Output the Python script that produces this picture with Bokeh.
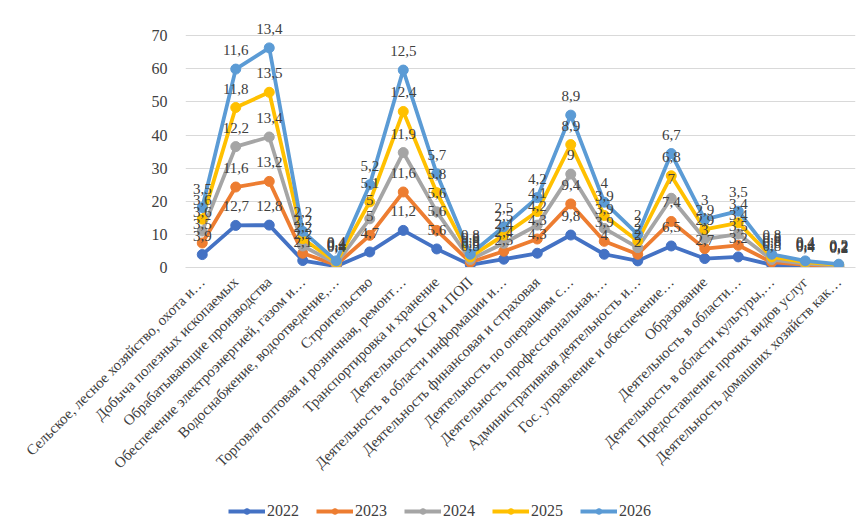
import numpy as np
from math import pi
from bokeh.plotting import figure
from bokeh.layouts import column
from bokeh.models import FactorRange, Range1d, FixedTicker, Legend, LegendItem, ColumnDataSource
from bokeh.core.properties import value
from bokeh.embed import file_html
from bokeh.resources import INLINE

categories = [
    "Сельское, лесное хозяйство, охота и…",
    "Добыча полезных ископаемых",
    "Обрабатывающие производства",
    "Обеспечение электроэнергией, газом и…",
    "Водоснабжение, водоотведение,…",
    "Строительство",
    "Торговля оптовая и розничная, ремонт…",
    "Транспортировка и хранение",
    "Деятельность КСР и ПОП",
    "Деятельность в области информации и…",
    "Деятельность финансовая и страховая",
    "Деятельность по операциям с…",
    "Деятельность профессиональная,…",
    "Административная деятельность и…",
    "Гос. управление и обеспечение…",
    "Образование",
    "Деятельность в области…",
    "Деятельность в области культуры,…",
    "Предоставление прочих видов услуг",
    "Деятельность домашних хозяйств как…",
]
years = ["2022", "2023", "2024", "2025", "2026"]
v2022 = [3.9, 12.7, 12.8, 2.1, 0.4, 4.7, 11.2, 5.6, 0.8, 2.5, 4.3, 9.8, 4.0, 2.0, 6.5, 2.7, 3.2, 0.8, 0.4, 0.2]
v2023 = [3.5, 11.6, 13.2, 2.2, 0.4, 5.0, 11.6, 5.6, 0.8, 2.4, 4.3, 9.4, 3.9, 2.0, 7.4, 3.0, 3.5, 0.8, 0.4, 0.2]
v2024 = [3.6, 12.2, 13.4, 2.2, 0.4, 5.0, 11.9, 5.6, 0.8, 2.4, 4.2, 9.0, 3.9, 2.0, 7.0, 2.9, 3.4, 0.8, 0.4, 0.2]
v2025 = [3.6, 11.8, 13.5, 2.2, 0.4, 5.1, 12.4, 5.8, 0.8, 2.5, 4.1, 8.9, 3.9, 2.0, 6.8, 2.9, 3.4, 0.8, 0.4, 0.2]
v2026 = [3.5, 11.6, 13.4, 2.2, 0.4, 5.2, 12.5, 5.7, 0.8, 2.5, 4.2, 8.9, 4.0, 2.0, 6.7, 3.0, 3.5, 0.8, 0.4, 0.2]
series = [v2022, v2023, v2024, v2025, v2026]
colors = ["#4472C4", "#ED7D31", "#A5A5A5", "#FFC000", "#5B9BD5"]
y_ticks = [0, 10, 20, 30, 40, 50, 60, 70]

FONT_NAME = "Liberation Serif"

p = figure(width=861, height=480,
           x_range=FactorRange(*categories, range_padding=0),
           y_range=Range1d(0, 80),
           output_backend="svg", toolbar_location=None,
           min_border_left=185, min_border_right=6,
           min_border_top=2, min_border_bottom=213)
p.outline_line_color = None
p.background_fill_color = "white"
p.border_fill_color = "white"

p.xgrid.grid_line_color = None
p.ygrid.grid_line_color = "#D9D9D9"
p.ygrid.grid_line_width = 1
p.yaxis.ticker = FixedTicker(ticks=y_ticks)

p.yaxis.axis_line_color = None
p.yaxis.major_tick_line_color = None
p.yaxis.minor_tick_line_color = None
p.yaxis.major_label_standoff = 12
p.yaxis.major_label_text_font = FONT_NAME
p.yaxis.major_label_text_font_size = "16px"
p.yaxis.major_label_text_color = "#404040"

p.xaxis.axis_line_color = "#D9D9D9"
p.xaxis.major_tick_line_color = None
p.xaxis.minor_tick_line_color = None
p.xaxis.major_label_orientation = pi / 4
p.xaxis.major_label_standoff = 6
p.xaxis.major_label_text_font = FONT_NAME
p.xaxis.major_label_text_font_size = "15px"
p.xaxis.major_label_text_color = "#404040"

cum = np.zeros(len(categories))
label_sources = []
for yr, vals, col in zip(years, series, colors):
    cum = cum + np.array(vals)
    src = ColumnDataSource(dict(
        x=categories, y=cum.round(2),
        txt=[f"{v:g}".replace(".", ",") for v in vals]))
    p.line("x", "y", source=src, line_color=col, line_width=3.8)
    p.scatter("x", "y", source=src, size=10, fill_color=col, line_color=col)
    label_sources.append(src)

for src in label_sources:
    p.text("x", "y", text="txt", source=src, text_font=value(FONT_NAME),
           text_font_size="15px", text_color="#404040",
           text_align="center", text_baseline="middle", y_offset=-19)

# legend strip below the chart
pl = figure(width=861, height=48, x_range=Range1d(0, 1), y_range=Range1d(0, 1),
            output_backend="svg", toolbar_location=None,
            min_border_left=185, min_border_right=6, min_border_top=0, min_border_bottom=0)
pl.axis.visible = False
pl.grid.visible = False
pl.outline_line_color = None
items = []
for yr, col in zip(years, colors):
    lr = pl.line(x=[5, 6], y=[5, 6], line_color=col, line_width=3.8)
    sr = pl.scatter(x=[5], y=[5], size=10, fill_color=col, line_color=col)
    items.append(LegendItem(label=yr, renderers=[lr, sr]))
legend = Legend(items=items, orientation="horizontal", location=(43, 8),
                label_text_font=FONT_NAME, label_text_font_size="16px",
                label_text_color="#404040", glyph_width=37, glyph_height=14,
                label_standoff=2, spacing=17, padding=0, margin=0,
                border_line_color=None, background_fill_alpha=0)
pl.add_layout(legend, "center")

open("out.html", "w").write(file_html(column(p, pl, spacing=0), INLINE))
